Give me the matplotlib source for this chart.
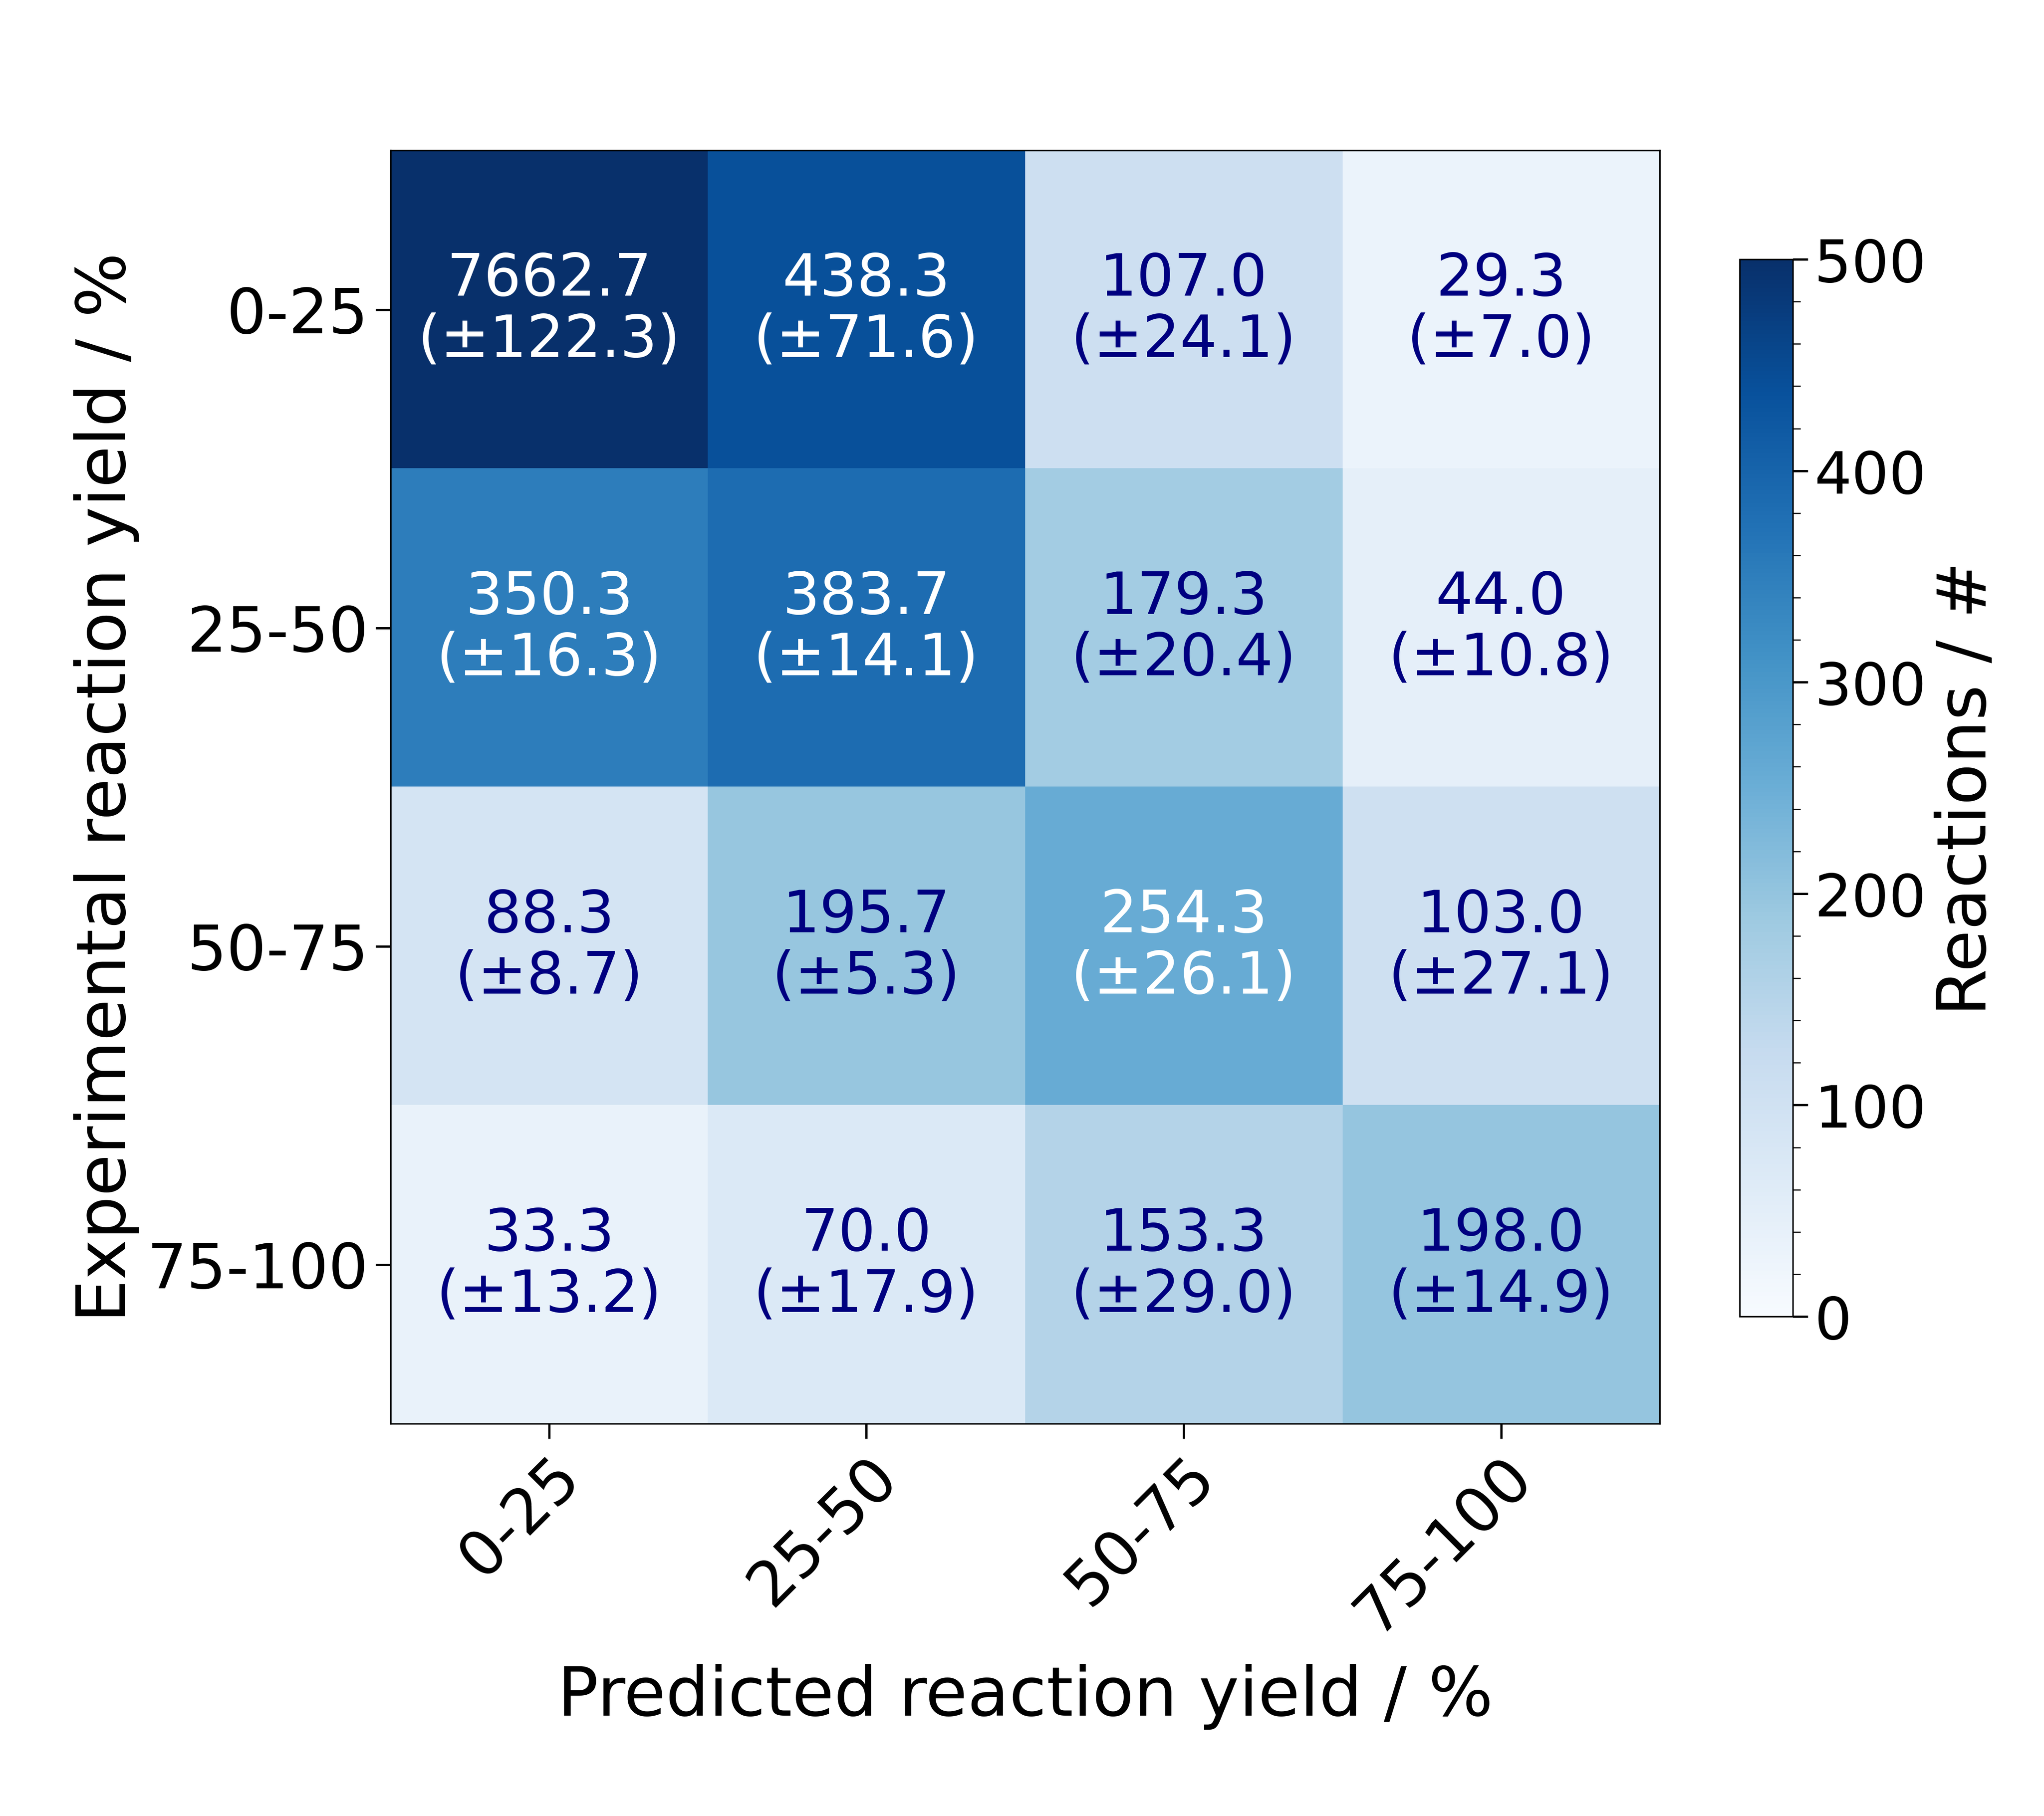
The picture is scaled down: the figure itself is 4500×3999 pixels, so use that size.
import numpy as np
import matplotlib
matplotlib.use("Agg")
import matplotlib.pyplot as plt
from matplotlib.ticker import AutoMinorLocator

klas = ["0-25", "25-50", "50-75", "75-100"]
rerata = np.array([
    [7662.7, 438.3, 107.0, 29.3],
    [350.3, 383.7, 179.3, 44.0],
    [88.3, 195.7, 254.3, 103.0],
    [33.3, 70.0, 153.3, 198.0],
])
galat = np.array([
    [122.3, 71.6, 24.1, 7.0],
    [16.3, 14.1, 20.4, 10.8],
    [8.7, 5.3, 26.1, 27.1],
    [13.2, 17.9, 29.0, 14.9],
])

fig = plt.figure(figsize=(15, 13.333), dpi=300)
ax = fig.add_axes([0.191, 0.216, 0.621, 0.701])
im = ax.imshow(rerata, cmap="Blues", vmin=0, vmax=500, aspect="auto")

for i in range(4):
    for j in range(4):
        warna = "white" if rerata[i, j] > 250 else "navy"
        ax.text(j, i, f"{rerata[i, j]:.1f}\n(±{galat[i, j]:.1f})",
                ha="center", va="center", color=warna, fontsize=31, linespacing=1.1)

ax.set_xticks(range(4))
ax.set_yticks(range(4))
ax.set_xticklabels(klas, rotation=45, ha="right", rotation_mode="anchor", fontsize=33)
ax.set_yticklabels(klas, fontsize=33)
ax.tick_params(length=8, width=1.2)
ax.set_xlabel("Predicted reaction yield / %", fontsize=36, labelpad=10)
ax.set_ylabel("Experimental reaction yield / %", fontsize=36)

cax = fig.add_axes([0.851, 0.275, 0.026, 0.582])
cb = fig.colorbar(im, cax=cax)
cb.set_ticks([0, 100, 200, 300, 400, 500])
cb.ax.yaxis.set_minor_locator(AutoMinorLocator(5))
cb.ax.tick_params(labelsize=31, length=8, width=1.2)
cb.ax.tick_params(which="minor", length=4)
cb.set_label("Reactions / #", fontsize=36)

fig.savefig("out.png")
